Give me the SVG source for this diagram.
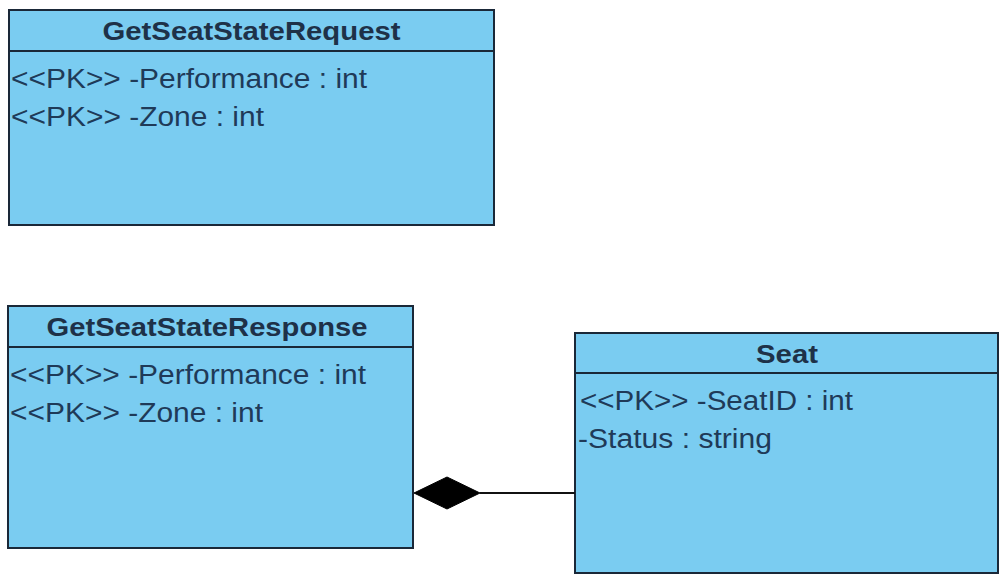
<svg xmlns="http://www.w3.org/2000/svg" width="999" height="575" viewBox="0 0 999 575">
<style>
.box{fill:#7accf1;stroke:#1a2838;stroke-width:2}
.sep{stroke:#1a2838;stroke-width:2}
.title{font-family:"Liberation Sans",Arial,sans-serif;font-weight:bold;font-size:26px;fill:#1e3148;text-anchor:middle}
.attr{font-family:"Liberation Sans",Arial,sans-serif;font-size:27px;fill:#1f3a58}
.conn{stroke:#111;stroke-width:2;fill:none}
</style>
<rect width="999" height="575" fill="#ffffff"/>
<g id="GetSeatStateRequest">
<rect class="box" x="9" y="10" width="485" height="215"/>
<line class="sep" x1="9" y1="51" x2="494" y2="51"/>
<text class="title" x="251.5" y="40" textLength="298" lengthAdjust="spacingAndGlyphs">GetSeatStateRequest</text>
<text class="attr" x="11" y="88" textLength="356" lengthAdjust="spacingAndGlyphs">&lt;&lt;PK&gt;&gt; -Performance : int</text>
<text class="attr" x="11" y="126" textLength="253" lengthAdjust="spacingAndGlyphs">&lt;&lt;PK&gt;&gt; -Zone : int</text>
</g>
<g id="GetSeatStateResponse">
<rect class="box" x="8" y="306" width="405" height="242"/>
<line class="sep" x1="8" y1="347" x2="413" y2="347"/>
<text class="title" x="207" y="336" textLength="321" lengthAdjust="spacingAndGlyphs">GetSeatStateResponse</text>
<text class="attr" x="10" y="384" textLength="356" lengthAdjust="spacingAndGlyphs">&lt;&lt;PK&gt;&gt; -Performance : int</text>
<text class="attr" x="10" y="422" textLength="253" lengthAdjust="spacingAndGlyphs">&lt;&lt;PK&gt;&gt; -Zone : int</text>
</g>
<g id="Seat">
<rect class="box" x="575" y="333" width="423" height="240"/>
<line class="sep" x1="575" y1="373" x2="998" y2="373"/>
<text class="title" x="787" y="363" textLength="62" lengthAdjust="spacingAndGlyphs">Seat</text>
<text class="attr" x="580" y="410" textLength="273" lengthAdjust="spacingAndGlyphs">&lt;&lt;PK&gt;&gt; -SeatID : int</text>
<text class="attr" x="578" y="448" textLength="194" lengthAdjust="spacingAndGlyphs">-Status : string</text>
</g>
<g id="connectors">
<line class="conn" x1="480" y1="493" x2="575" y2="493"/>
<polygon points="414,493 447,477 480,493 447,509" fill="#000" stroke="#000" stroke-width="1"/>
</g>
</svg>
